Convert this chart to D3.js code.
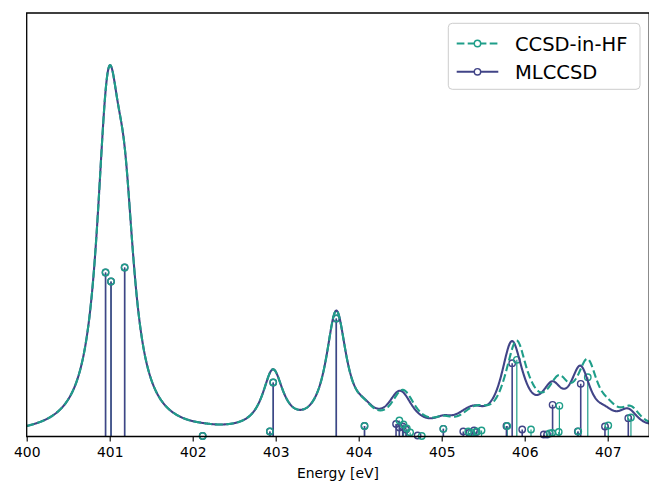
<!DOCTYPE html>
<html>
<head>
<meta charset="utf-8">
<script src="https://cdn.jsdelivr.net/npm/d3@7"></script>
<style>
  html, body { margin: 0; padding: 0; background: #ffffff; }
  svg { display: block; font-family: "DejaVu Sans", sans-serif; }
</style>
</head>
<body>
<svg id="chart" width="649" height="481"></svg>
<script>
// Stick spectra: excitation energies (eV) and relative intensities.
const mlccsdEnergies = [400.95, 401.016, 401.18, 402.12, 402.93, 402.97, 403.73, 404.07,
  404.45, 404.49, 404.53, 404.57, 404.71, 405.02, 405.26, 405.33, 405.39, 405.42,
  405.78, 405.849, 405.97, 406.23, 406.27, 406.336, 406.64, 406.675, 406.967, 407.248, 407.70];
const mlccsdIntensities = [16.4, 15.5, 16.9, 0.05, 0.5, 5.4, 11.8, 1.05,
  1.25, 0.9, 1.0, 0.7, 0.1, 0.77, 0.5, 0.35, 0.6, 0.45,
  1.05, 7.33, 0.7, 0.2, 0.2, 3.17, 0.5, 5.27, 1.0, 1.83, 1.0];

const ccsdInHfEnergies = [400.95, 401.016, 401.18, 402.12, 402.93, 402.97, 403.73, 404.07,
  404.49, 404.54, 404.58, 404.62, 404.76, 405.02, 405.32, 405.36, 405.42, 405.48,
  405.79, 405.905, 406.076, 406.30, 406.33, 406.41, 406.418, 406.645, 406.76, 407.007, 407.28, 407.73];
const ccsdInHfIntensities = [16.4, 15.5, 16.9, 0.05, 0.5, 5.4, 11.8, 1.05,
  1.6, 1.2, 0.8, 0.4, 0.05, 0.77, 0.5, 0.35, 0.5, 0.6,
  1.05, 7.67, 0.7, 0.3, 0.35, 0.45, 3.07, 0.5, 5.93, 1.1, 1.9, 1.0];

const seriesNames = ["CCSD-in-HF", "MLCCSD"];
const xTickValues = [400, 401, 402, 403, 404, 405, 406, 407];
const xAxisLabel = "Energy [eV]";

// Lorentzian broadening (FWHM in eV), unit peak height.
const fwhm = 0.3;

const W = 649, H = 481;
const plot = { left: 26.7, right: 649.2, top: 13, bottom: 436.5 };
const colors = { ml: "#414487", hf: "#1f9e89" };

const svg = d3.select("#chart");

const x = d3.scaleLinear().domain([400, 407.5]).range([plot.left, plot.right]);
const y = d3.scaleLinear().domain([0, 42.35]).range([plot.bottom, plot.top]);

svg.append("defs").append("clipPath").attr("id", "plotClip")
  .append("rect")
  .attr("x", plot.left).attr("y", plot.top)
  .attr("width", plot.right - plot.left).attr("height", plot.bottom - plot.top);

function broaden(energies, intensities) {
  const half = fwhm / 2;
  const grid = d3.range(400, 407.5001, 0.004);
  return grid.map(e => {
    let s = 0;
    for (let i = 0; i < energies.length; i++) {
      const d = (e - energies[i]) / half;
      s += intensities[i] / (1 + d * d);
    }
    return [e, s];
  });
}

const sticks = (energies, intensities) => energies.map((e, i) => ({ e, v: intensities[i] }));

const mlSticks = sticks(mlccsdEnergies, mlccsdIntensities);
const hfSticks = sticks(ccsdInHfEnergies, ccsdInHfIntensities);
const mlCurve = broaden(mlccsdEnergies, mlccsdIntensities);
const hfCurve = broaden(ccsdInHfEnergies, ccsdInHfIntensities);

const line = d3.line().x(d => x(d[0])).y(d => y(d[1]));
const inRange = d => d.e >= 400 && d.e <= 407.5;

// Stems and open markers
function drawStems(data, color, width) {
  const g = svg.append("g").attr("clip-path", "url(#plotClip)");
  g.selectAll("line").data(data.filter(inRange)).join("line")
    .attr("x1", d => x(d.e)).attr("x2", d => x(d.e))
    .attr("y1", y(0)).attr("y2", d => y(d.v))
    .attr("stroke", color).attr("stroke-width", width);
}
function drawMarkers(data, color) {
  svg.append("g").selectAll("circle").data(data.filter(inRange)).join("circle")
    .attr("cx", d => x(d.e)).attr("cy", d => y(d.v)).attr("r", 3.2)
    .attr("fill", "none").attr("stroke", color).attr("stroke-width", 1.4);
}

drawStems(hfSticks, colors.hf, 1.2);
drawStems(mlSticks, colors.ml, 1.6);
drawMarkers(mlSticks, colors.ml);
drawMarkers(hfSticks, colors.hf);

// Broadened spectra
const curves = svg.append("g").attr("clip-path", "url(#plotClip)");
curves.append("path").datum(mlCurve).attr("d", line)
  .attr("fill", "none").attr("stroke", colors.ml).attr("stroke-width", 2.1)
  .attr("stroke-linejoin", "round");
curves.append("path").datum(hfCurve).attr("d", line)
  .attr("fill", "none").attr("stroke", colors.hf).attr("stroke-width", 2.1)
  .attr("stroke-dasharray", "7.7,3.3");

// Axis
const xAxis = d3.axisBottom(x).tickValues(xTickValues).tickSize(4.9).tickPadding(6.2)
  .tickFormat(d3.format("d"));
const ax = svg.append("g").attr("transform", `translate(0,${plot.bottom})`).call(xAxis);
ax.select(".domain").remove();
ax.selectAll(".tick line").attr("stroke", "#000").attr("stroke-width", 1.1);
ax.selectAll(".tick text").attr("fill", "#000")
  .style("font-family", "DejaVu Sans").style("font-size", "13.9px");

// Spines
const spine = svg.append("g").attr("fill", "none").attr("stroke", "#000").attr("stroke-width", 1.3);
spine.append("path")
  .attr("d", `M${plot.right},${plot.top}H${plot.left}V${plot.bottom}H${plot.right}V${plot.top}`);

svg.append("text").attr("x", (plot.left + plot.right) / 2).attr("y", 477.5)
  .attr("text-anchor", "middle").style("font-size", "13.9px").attr("fill", "#000")
  .text(xAxisLabel);

// Legend
const legend = svg.append("g");
legend.append("rect").attr("x", 448.3).attr("y", 23.3).attr("width", 191.7).attr("height", 66)
  .attr("rx", 4).attr("fill", "#ffffff").attr("fill-opacity", 0.8)
  .attr("stroke", "#cccccc").attr("stroke-width", 1);
const legendItems = [
  { name: seriesNames[0], color: colors.hf, dash: "7.7,3.3", y: 43.5 },
  { name: seriesNames[1], color: colors.ml, dash: null, y: 71.8 }
];
legendItems.forEach(it => {
  legend.append("line").attr("x1", 456.7).attr("x2", 498.3).attr("y1", it.y).attr("y2", it.y)
    .attr("stroke", it.color).attr("stroke-width", 2.1)
    .attr("stroke-dasharray", it.dash);
  legend.append("circle").attr("cx", 477.5).attr("cy", it.y).attr("r", 3.2)
    .attr("fill", "#ffffff").attr("stroke", it.color).attr("stroke-width", 1.4);
  legend.append("text").attr("x", 515).attr("y", it.y + 7)
    .style("font-size", "19.5px").attr("fill", "#000").text(it.name);
});
</script>
</body>
</html>
